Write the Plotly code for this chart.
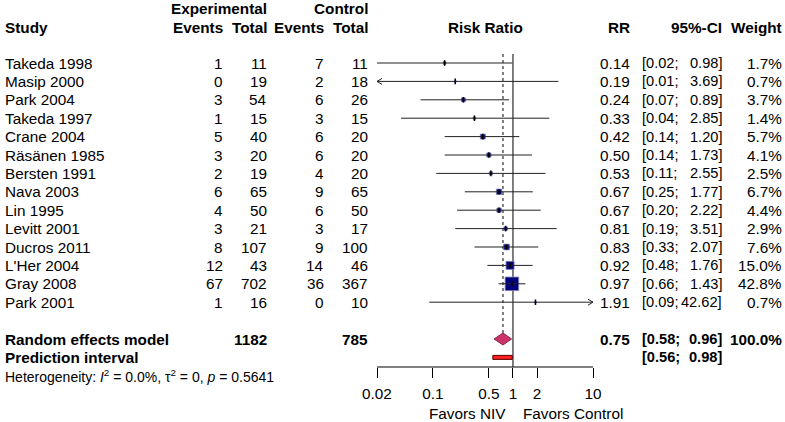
import math
import plotly.graph_objects as go

# ---------------- data ----------------
studies = ["Takeda 1998", "Masip 2000", "Park 2004", "Takeda 1997", "Crane 2004",
           "Räsänen 1985", "Bersten 1991", "Nava 2003", "Lin 1995", "Levitt 2001",
           "Ducros 2011", "L'Her 2004", "Gray 2008", "Park 2001"]
exp_events = [1, 0, 3, 1, 5, 3, 2, 6, 4, 3, 8, 12, 67, 1]
exp_total = [11, 19, 54, 15, 40, 20, 19, 65, 50, 21, 107, 43, 702, 16]
ctrl_events = [7, 2, 6, 3, 6, 6, 4, 9, 6, 3, 9, 14, 36, 0]
ctrl_total = [11, 18, 26, 15, 20, 20, 20, 65, 50, 17, 100, 46, 367, 10]
rr = [0.14, 0.19, 0.24, 0.33, 0.42, 0.50, 0.53, 0.67, 0.67, 0.81, 0.83, 0.92, 0.97, 1.91]
ci_lo = [0.02, 0.01, 0.07, 0.04, 0.14, 0.14, 0.11, 0.25, 0.20, 0.19, 0.33, 0.48, 0.66, 0.09]
ci_hi = [0.98, 3.69, 0.89, 2.85, 1.20, 1.73, 2.55, 1.77, 2.22, 3.51, 2.07, 1.76, 1.43, 42.62]
weights = [1.7, 0.7, 3.7, 1.4, 5.7, 4.1, 2.5, 6.7, 4.4, 2.9, 7.6, 15.0, 42.8, 0.7]

pooled_label = "Random effects model"
pooled_exp_total = 1182
pooled_ctrl_total = 785
pooled_rr = 0.75
pooled_lo = 0.58
pooled_hi = 0.96
pooled_weight = 100.0
pred_label = "Prediction interval"
pred_lo = 0.56
pred_hi = 0.98
het_text = "Heterogeneity: <i>I</i><sup>2</sup> = 0.0%, τ<sup>2</sup> = 0, <i>p</i> = 0.5641"

tick_vals = [0.02, 0.1, 0.5, 1, 2, 10]
tick_text = ["0.02", "0.1", "0.5", "1", "2", "10"]
x_min, x_max = 0.02, 10
label_left = "Favors NIV"
label_right = "Favors Control"

# ---------------- layout geometry (pixels) ----------------
W, H = 785, 422
FONT = "Liberation Sans, Arial, sans-serif"
FS = 15.3
FS_CI = 14.6
ax_left, ax_right = 377, 593
ppd = (ax_right - ax_left) / (math.log10(x_max) - math.log10(x_min))  # px per decade
pad = 6
row0, step = 63, 18.4
def row_y(i):
    return row0 + i * step
y_pooled = row_y(15)
y_pred = row_y(16)
y_het = row_y(17)
y_axis = 367
y_top_line = 54

def px(x):
    return x / W

fig = go.Figure()

# vertical reference lines
fig.add_trace(go.Scatter(x=[1, 1], y=[y_top_line, y_axis], mode="lines",
                         line=dict(color="black", width=1), hoverinfo="skip"))
fig.add_trace(go.Scatter(x=[pooled_rr, pooled_rr], y=[y_top_line, y_pooled - 6], mode="lines",
                         line=dict(color="black", width=1, dash="dot"), hoverinfo="skip"))

# squares
sizes = [13.5 * math.sqrt(w / max(weights)) for w in weights]
fig.add_trace(go.Scatter(x=rr, y=[row_y(i) for i in range(len(rr))], mode="markers",
                         marker=dict(symbol="square", size=sizes, color="#00007F", opacity=1,
                                     line=dict(color="#7C7CB8", width=0.8)),
                         hoverinfo="skip"))

# CI lines with clipping arrows
def xoff(x, dpx):
    return x * 10 ** (dpx / ppd)

for i in range(len(rr)):
    y = row_y(i)
    lo = max(ci_lo[i], x_min)
    hi = min(ci_hi[i], x_max)
    fig.add_trace(go.Scatter(x=[lo, hi], y=[y, y], mode="lines",
                             line=dict(color="#222222", width=1), hoverinfo="skip"))
    if ci_lo[i] < x_min:
        fig.add_trace(go.Scatter(x=[xoff(lo, 5), lo, xoff(lo, 5)], y=[y - 3, y, y + 3], mode="lines",
                                 line=dict(color="#222222", width=1), hoverinfo="skip"))
    if ci_hi[i] > x_max:
        fig.add_trace(go.Scatter(x=[xoff(hi, -5), hi, xoff(hi, -5)], y=[y - 3, y, y + 3], mode="lines",
                                 line=dict(color="#222222", width=1), hoverinfo="skip"))

# point estimate ticks
fig.add_trace(go.Scatter(x=rr, y=[row_y(i) for i in range(len(rr))], mode="markers",
                         marker=dict(symbol="line-ns", size=4, opacity=1,
                                     line=dict(color="black", width=1.5)),
                         hoverinfo="skip"))

# diamond
fig.add_trace(go.Scatter(x=[pooled_lo, pooled_rr, pooled_hi, pooled_rr, pooled_lo],
                         y=[y_pooled, y_pooled - 6, y_pooled, y_pooled + 6, y_pooled],
                         mode="lines", fill="toself", fillcolor="#CC3366",
                         line=dict(color="#8B2252", width=1), hoverinfo="skip"))
# prediction interval
fig.add_trace(go.Scatter(x=[pred_lo, pred_hi, pred_hi, pred_lo, pred_lo],
                         y=[y_pred - 2, y_pred - 2, y_pred + 2, y_pred + 2, y_pred - 2],
                         mode="lines", fill="toself", fillcolor="#FF2020",
                         line=dict(color="#5A0000", width=1), hoverinfo="skip"))

# axis line
fig.add_trace(go.Scatter(x=[x_min, x_max], y=[y_axis, y_axis], mode="lines",
                         line=dict(color="black", width=1), hoverinfo="skip"))

# ---------------- text ----------------
ann = []
def T(x, y, text, anchor="left", bold=False, size=FS):
    if bold:
        text = "<b>" + text + "</b>"
    ann.append(dict(x=px(x), y=y, xref="paper", yref="y", text=text, showarrow=False,
                    xanchor=anchor, yanchor="middle", borderpad=0,
                    font=dict(family=FONT, size=size, color="black")))

def CI(y, lo, hi, bold=False):
    T(641, y, f"[{lo:.2f};", "left", bold, FS_CI)
    T(723, y, f"{hi:.2f}]", "right", bold, FS_CI)

# headers
T(268, 8, "Experimental", "right", True)
T(369, 8, "Control", "right", True)
T(4, 27, "Study", "left", True)
T(224, 27, "Events", "right", True)
T(268, 27, "Total", "right", True)
T(325, 27, "Events", "right", True)
T(369, 27, "Total", "right", True)
T((ax_left + ax_right) / 2, 27, "Risk Ratio", "center", True)
T(631, 27, "RR", "right", True)
T(723, 27, "95%-CI", "right", True)
T(783, 27, "Weight", "right", True)

for i, s in enumerate(studies):
    y = row_y(i)
    T(4, y, s)
    T(224, y, str(exp_events[i]), "right")
    T(268, y, str(exp_total[i]), "right")
    T(325, y, str(ctrl_events[i]), "right")
    T(369, y, str(ctrl_total[i]), "right")
    T(631, y, f"{rr[i]:.2f}", "right")
    CI(y, ci_lo[i], ci_hi[i])
    T(783, y, f"{weights[i]:.1f}%", "right")

T(4, y_pooled, pooled_label, "left", True)
T(268, y_pooled, str(pooled_exp_total), "right", True)
T(369, y_pooled, str(pooled_ctrl_total), "right", True)
T(631, y_pooled, f"{pooled_rr:.2f}", "right", True)
CI(y_pooled, pooled_lo, pooled_hi, True)
T(783, y_pooled, f"{pooled_weight:.1f}%", "right", True)

T(4, y_pred, pred_label, "left", True)
CI(y_pred, pred_lo, pred_hi, True)

T(4, y_het, het_text, "left", False, 14)

T(507, 413, label_left, "right")
T(522, 413, label_right, "left")

fig.update_layout(
    width=W, height=H,
    margin=dict(l=0, r=0, t=0, b=0, autoexpand=False),
    paper_bgcolor="white", plot_bgcolor="rgba(0,0,0,0)",
    showlegend=False,
    annotations=ann,
    xaxis=dict(type="log",
               domain=[(ax_left - pad) / W, (ax_right + pad) / W],
               range=[math.log10(x_min) - pad / ppd, math.log10(x_max) + pad / ppd],
               anchor="free", position=1 - y_axis / H, automargin=False,
               showgrid=False, zeroline=False, showline=False,
               tickmode="array", tickvals=tick_vals, ticktext=tick_text,
               ticks="outside", ticklen=10, tickwidth=1, tickcolor="black",
               ticklabelstandoff=3,
               tickfont=dict(family=FONT, size=FS, color="black")),
    yaxis=dict(range=[H, 0], domain=[0, 1], visible=False, fixedrange=True, automargin=False),
)

fig.write_html("out.html")
